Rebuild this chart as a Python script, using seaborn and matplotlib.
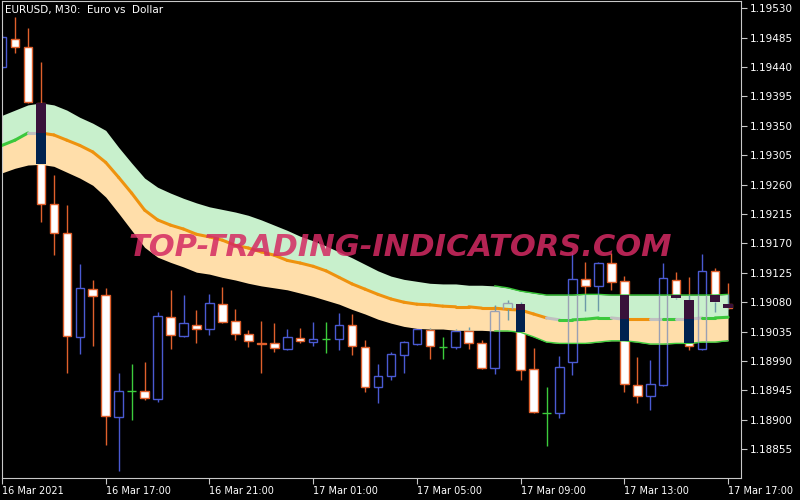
import matplotlib
matplotlib.use('Agg')
import matplotlib.pyplot as plt
import numpy as np
import pandas as pd
import seaborn as sns

# EURUSD M30 bars, 16 Mar 2021 13:00 -> 17 Mar 2021 17:00
opens = [1.19440, 1.19483, 1.19470, 1.19385, 1.19230, 1.19186, 1.19027, 1.19100,
         1.19091, 1.18904, 1.18944, 1.18944, 1.18932, 1.19057, 1.19028, 1.19045,
         1.19039, 1.19077, 1.19051, 1.19031, 1.19017, 1.19017, 1.19008, 1.19025,
         1.19019, 1.19024, 1.19024, 1.19045, 1.19011, 1.18950, 1.18967, 1.18999,
         1.19016, 1.19037, 1.19011, 1.19011, 1.19036, 1.19017, 1.18979, 1.19069,
         1.19077, 1.18978, 1.18910, 1.18910, 1.18988, 1.19115, 1.19105, 1.19140,
         1.19112, 1.18953, 1.18936, 1.18953, 1.19114, 1.19083, 1.19008, 1.19128,
         1.19077]
highs = [1.19489, 1.19516, 1.19499, 1.19447, 1.19274, 1.19229, 1.19138, 1.19114,
         1.19102, 1.18972, 1.18985, 1.18988, 1.19065, 1.19099, 1.19091, 1.19068,
         1.19092, 1.19103, 1.19069, 1.19037, 1.19051, 1.19048, 1.19039, 1.19040,
         1.19050, 1.19050, 1.19063, 1.19062, 1.19022, 1.18985, 1.19004, 1.19021,
         1.19040, 1.19040, 1.19027, 1.19039, 1.19042, 1.19022, 1.19076, 1.19083,
         1.19080, 1.19010, 1.18950, 1.18998, 1.19157, 1.19141, 1.19141, 1.19155,
         1.19120, 1.18996, 1.18991, 1.19140, 1.19126, 1.19118, 1.19154, 1.19132,
         1.19109]
lows = [1.19437, 1.19461, 1.19385, 1.19203, 1.19152, 1.18972, 1.19001, 1.19013,
        1.18861, 1.18822, 1.18900, 1.18930, 1.18927, 1.19008, 1.19027, 1.19017,
        1.19030, 1.19048, 1.19022, 1.19011, 1.18972, 1.19004, 1.19007, 1.19017,
        1.19013, 1.19002, 1.19007, 1.18999, 1.18942, 1.18926, 1.18961, 1.18972,
        1.19014, 1.18993, 1.18993, 1.19008, 1.19008, 1.18978, 1.18970, 1.19053,
        1.18961, 1.18910, 1.18860, 1.18903, 1.18968, 1.19066, 1.19066, 1.19099,
        1.18942, 1.18926, 1.18915, 1.18952, 1.19085, 1.19007, 1.19007, 1.19065,
        1.19069]
closes = [1.19486, 1.19470, 1.19386, 1.19230, 1.19186, 1.19028, 1.19102, 1.19089,
          1.18906, 1.18944, 1.18944, 1.18933, 1.19059, 1.19030, 1.19048, 1.19039,
          1.19079, 1.19050, 1.19031, 1.19021, 1.19016, 1.19010, 1.19027, 1.19021,
          1.19024, 1.19024, 1.19045, 1.19013, 1.18950, 1.18967, 1.19001, 1.19019,
          1.19039, 1.19013, 1.19011, 1.19036, 1.19017, 1.18979, 1.19066, 1.19079,
          1.18976, 1.18912, 1.18910, 1.18981, 1.19115, 1.19105, 1.19140, 1.19111,
          1.18955, 1.18936, 1.18955, 1.19117, 1.19086, 1.19013, 1.19128, 1.19080,
          1.19071]

# indicator buffers: channel top, middle average, channel bottom
band_upper = [1.19366, 1.19374, 1.19382, 1.19385, 1.19382, 1.19374, 1.19363, 1.19354,
              1.19343, 1.19317, 1.19293, 1.19270, 1.19256, 1.19247, 1.19239, 1.19232,
              1.19226, 1.19222, 1.19218, 1.19213, 1.19206, 1.19198, 1.19190, 1.19181,
              1.19174, 1.19166, 1.19157, 1.19148, 1.19138, 1.19128, 1.19120, 1.19115,
              1.19112, 1.19109, 1.19108, 1.19108, 1.19106, 1.19106, 1.19105, 1.19102,
              1.19097, 1.19094, 1.19091, 1.19091, 1.19091, 1.19092, 1.19092, 1.19091,
              1.19091, 1.19091, 1.19091, 1.19091, 1.19091, 1.19091, 1.19091, 1.19091,
              1.19092]
band_mid = [1.19320, 1.19328, 1.19339, 1.19339, 1.19336, 1.19328, 1.19320, 1.19310,
            1.19294, 1.19271, 1.19247, 1.19221, 1.19206, 1.19198, 1.19192, 1.19184,
            1.19180, 1.19175, 1.19167, 1.19163, 1.19157, 1.19152, 1.19144, 1.19140,
            1.19135, 1.19128, 1.19118, 1.19108, 1.19100, 1.19092, 1.19085, 1.19080,
            1.19077, 1.19076, 1.19074, 1.19073, 1.19073, 1.19071, 1.19071, 1.19069,
            1.19068, 1.19062, 1.19056, 1.19053, 1.19053, 1.19054, 1.19056, 1.19056,
            1.19054, 1.19054, 1.19054, 1.19054, 1.19054, 1.19054, 1.19056, 1.19056,
            1.19057]
band_lower = [1.19278, 1.19285, 1.19290, 1.19291, 1.19288, 1.19279, 1.19270, 1.19259,
              1.19241, 1.19216, 1.19190, 1.19164, 1.19149, 1.19141, 1.19134, 1.19126,
              1.19123, 1.19118, 1.19114, 1.19109, 1.19105, 1.19102, 1.19099, 1.19094,
              1.19089, 1.19083, 1.19077, 1.19069, 1.19062, 1.19054, 1.19048, 1.19043,
              1.19040, 1.19039, 1.19039, 1.19037, 1.19037, 1.19037, 1.19036, 1.19036,
              1.19034, 1.19027, 1.19019, 1.19017, 1.19017, 1.19017, 1.19019, 1.19021,
              1.19021, 1.19019, 1.19016, 1.19016, 1.19017, 1.19017, 1.19019, 1.19019,
              1.19021]
# colour buffer of the middle line: 1 rising, 0 flat, -1 falling
mid_state = [1, 1, 1, 0, -1, -1, -1, -1, -1, -1, -1, -1, -1, -1, -1, -1,
             -1, -1, -1, -1, -1, -1, -1, -1, -1, -1, -1, -1, -1, -1, -1, -1,
             -1, -1, -1, -1, -1, -1, -1, -1, -1, -1, -1, 0, 1, 1, 1, 1,
             0, -1, -1, 0, 1, 0, 0, 1, 1]

price_ticks = [1.19530, 1.19485, 1.19440, 1.19395, 1.19350, 1.19305, 1.19260, 1.19215,
               1.19170, 1.19125, 1.19080, 1.19035, 1.18990, 1.18945, 1.18900, 1.18855]
time_tick_bars = [0, 8, 16, 24, 32, 40, 48, 56]
time_tick_labels = ['16 Mar 2021', '16 Mar 17:00', '16 Mar 21:00', '17 Mar 01:00',
                    '17 Mar 05:00', '17 Mar 09:00', '17 Mar 13:00', '17 Mar 17:00']

BEAR = '#e0602c'
BULL = '#4a5ad2'
DOJI = '#3ccc3c'
MINT = '#c8f0cc'
PEACH = '#ffdeaa'
STATE_COLORS = {1: '#3cc83c', 0: '#c0c0c0', -1: '#ee920e'}
W = 0.66

sns.set_theme(style='dark', rc={'axes.facecolor': 'black', 'figure.facecolor': 'black',
                                'axes.grid': False})
plt.rcParams['font.family'] = ['DejaVu Sans']

df = pd.DataFrame({'open': opens, 'high': highs, 'low': lows, 'close': closes,
                   'upper': band_upper, 'mid': band_mid, 'lower': band_lower,
                   'state': mid_state})
df['x'] = np.arange(len(df))
df['top'] = df[['open', 'close']].max(axis=1)
df['bot'] = df[['open', 'close']].min(axis=1)
bull = df[df['close'] > df['open']]
bear = df[df['close'] < df['open']]
doji = df[df['close'] == df['open']]

fig = plt.figure(figsize=(8, 5), dpi=100)
ax = fig.add_axes([2 / 800, 22 / 500, 739 / 800, 477 / 500])

# candles (below the channel, the channel is painted in XOR style on top)
wick_colors = np.where(df['close'] > df['open'], BULL,
                       np.where(df['close'] < df['open'], BEAR, DOJI))
ax.vlines(df['x'], df['low'], df['high'], colors=wick_colors, lw=1, zorder=1)
ax.bar(bear['x'], bear['open'] - bear['close'], bottom=bear['close'], width=W,
       color='white', edgecolor=BEAR, lw=1, zorder=1.5)
ax.bar(bull['x'], bull['close'] - bull['open'], bottom=bull['open'], width=W,
       color='black', edgecolor=BULL, lw=1, zorder=1.5)
ax.hlines(doji['close'], doji['x'] - W / 2, doji['x'] + W / 2, colors=DOJI, lw=1, zorder=1.5)

# channel
ax.fill_between(df['x'], df['mid'], df['upper'], color=MINT, lw=0, zorder=2)
ax.fill_between(df['x'], df['lower'], df['mid'], color=PEACH, lw=0, zorder=2)
flat = df[df['x'] >= 38]
sns.lineplot(x=flat['x'], y=flat['upper'], color=DOJI, lw=1, ax=ax, zorder=2.5)
sns.lineplot(x=flat['x'], y=flat['lower'], color=DOJI, lw=1, ax=ax, zorder=2.5)
for i in range(1, len(df)):
    ax.plot([i - 1, i], [df['mid'][i - 1], df['mid'][i]], color=STATE_COLORS[df['state'][i]],
            lw=2.2, solid_capstyle='round', zorder=3)

# candle parts inside the channel (XOR look)
for _, r in df.iterrows():
    zones = [(r['mid'], r['upper'], '#38123a'), (r['lower'], r['mid'], '#00224f')]
    for lo_z, hi_z, dark in zones:
        for w_lo, w_hi in [(r['top'], r['high']), (r['low'], r['bot'])]:
            a, b = max(w_lo, lo_z), min(w_hi, hi_z)
            if b > a:
                ax.vlines(r['x'], a, b, colors='#6c9aa8', lw=1, zorder=4)
        a, b = max(r['bot'], lo_z), min(r['top'], hi_z)
        if b <= a:
            continue
        if r['close'] < r['open']:
            ax.bar(r['x'], b - a, bottom=a, width=W + 0.08, color=dark, lw=0, zorder=4.5)
        elif r['close'] > r['open']:
            ax.vlines([r['x'] - W / 2, r['x'] + W / 2], a, b, colors='#9aa0b4', lw=1, zorder=4.5)
            for edge in (r['bot'], r['top']):
                if lo_z < edge < hi_z:
                    ax.hlines(edge, r['x'] - W / 2, r['x'] + W / 2, colors='#9aa0b4',
                              lw=1, zorder=4.5)

ax.set_xlim(0, 57)
ax.set_ylim(1.18811, 1.19541)
ax.set_xlabel('')
ax.set_ylabel('')

ax.yaxis.tick_right()
ax.set_yticks(price_ticks, [f'{p:.5f}' for p in price_ticks])
ax.set_xticks(time_tick_bars, time_tick_labels)
for lbl in ax.get_xticklabels():
    lbl.set_horizontalalignment('left')
ax.tick_params(axis='y', right=True, left=False, labelright=True, labelleft=False,
               direction='out', length=4, width=0.8, color='#c8c8c8',
               labelcolor='white', labelsize=7.5, pad=2)
ax.tick_params(axis='x', bottom=True, direction='out', length=4, width=0.8,
               color='#c8c8c8', labelcolor='white', labelsize=7, pad=2)
for side in ax.spines.values():
    side.set_visible(True)
    side.set_color('#c8c8c8')
    side.set_linewidth(0.8)

fig.text(5 / 800, 1 - 10 / 500, 'EURUSD, M30:  Euro vs  Dollar', color='white',
         fontsize=7.5, va='center', ha='left')
fig.text(400 / 800, 1 - 248 / 500, 'TOP-TRADING-INDICATORS.COM', color='#d42a62',
         alpha=0.85, fontsize=22, fontweight='bold', fontstyle='italic',
         ha='center', va='center', zorder=10)

fig.savefig('out.png', dpi=100, facecolor='black')
